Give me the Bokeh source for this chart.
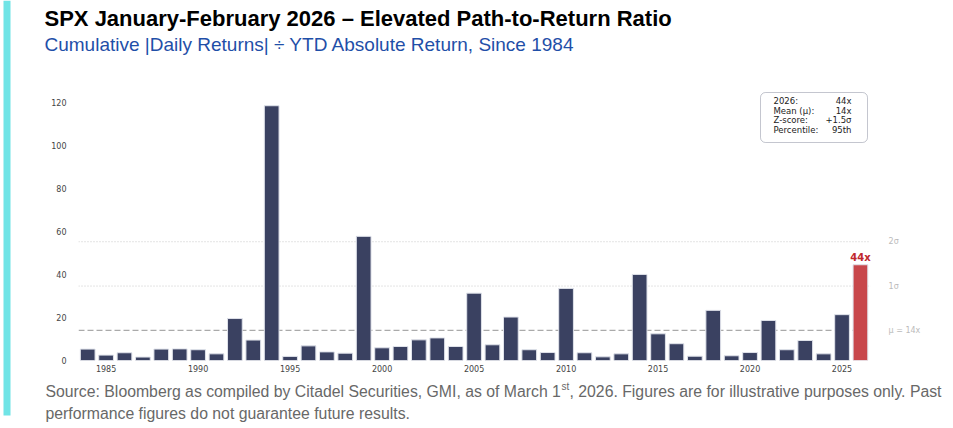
from bokeh.plotting import figure
from bokeh.models import Label, BoxAnnotation, FixedTicker, ColumnDataSource, Range1d
from bokeh.layouts import row, column
from bokeh.core.properties import value
from bokeh.embed import file_html
from bokeh.resources import INLINE

# ---------------- data ----------------
years = list(range(1984, 2027))
ratios = [5.3, 2.5, 3.6, 1.6, 5.3, 5.4, 5.0, 3.1, 19.5, 9.5,
          118.4, 1.9, 6.8, 4.0, 3.4, 57.7, 5.9, 6.5, 9.6, 10.5,
          6.5, 31.3, 7.3, 20.2, 5.0, 3.7, 33.5, 3.6, 1.7, 3.1,
          40.0, 12.4, 7.8, 2.0, 23.3, 2.2, 3.7, 18.6, 5.0, 9.3,
          3.1, 21.3, 44.5]
x_ticks = [1985, 1990, 1995, 2000, 2005, 2010, 2015, 2020, 2025]
y_ticks = [0, 20, 40, 60, 80, 100, 120]
current_year = 2026
current_label = "44x"
mean_value = 14
sigma_value = 20.6
stats_keys = ["2026:", "Mean (\u03bc):", "Z-score:", "Percentile:"]
stats_vals = ["44x", "14x", "+1.5\u03c3", "95th"]

title_text = "SPX January-February 2026 \u2013 Elevated Path-to-Return Ratio"
subtitle_text = "Cumulative |Daily Returns| \u00f7 YTD Absolute Return, Since 1984"
footer_a = "Source: Bloomberg as compiled by Citadel Securities, GMI, as of March 1"
footer_sup = "st"
footer_b = ", 2026. Figures are for illustrative purposes only. Past"
footer_2 = "performance figures do not guarantee future results."

# ---------------- styles ----------------
NAVY = "#3a4161"
RED = "#c8474b"
CYAN = "#70e4e6"
FOOT = "#686868"
STRIP_W = 12
MAIN_W = 953 - STRIP_W
TITLE_H, CHART_H, FOOT_H = 62, 316, 50


def blank(width, height):
    f = figure(width=width, height=height, output_backend="svg", toolbar_location=None,
               x_range=Range1d(0, width), y_range=Range1d(height, 0),
               x_axis_type=None, y_axis_type=None, frame_align=False,
               min_border=0, min_border_left=0, min_border_right=0,
               min_border_top=0, min_border_bottom=0)
    f.outline_line_color = None
    f.xgrid.visible = False
    f.ygrid.visible = False
    return f


# ---- cyan strip ----
strip = blank(STRIP_W, 428)
strip.quad(left=[3], right=[10], top=[0], bottom=[415], fill_color=CYAN, line_color=None)

# ---- title block ----
tfig = blank(MAIN_W, TITLE_H)
tfig.text(x=[32], y=[18], text=[title_text], text_font=value("Liberation Sans"),
          text_font_style="bold", text_font_size="22px", text_color="#000000",
          text_baseline="alphabetic")
tfig.text(x=[32], y=[44], text=[subtitle_text], text_font=value("Liberation Sans"),
          text_font_size="19px", text_color="#1f4fa8", text_baseline="alphabetic")

# ---- chart ----
colors = [RED if y == current_year else NAVY for y in years]
src = ColumnDataSource(dict(year=years, ratio=ratios, color=colors))

x_start, x_line_end, x_frame_end = 1983.5, 2026.55, 2030.08
p = figure(width=MAIN_W, height=CHART_H, output_backend="svg", toolbar_location=None,
           x_range=Range1d(x_start, x_frame_end), y_range=Range1d(0, 138.5),
           frame_align=False,
           min_border_left=66, min_border_right=18, min_border_top=0,
           min_border_bottom=18)
p.outline_line_color = None
p.xgrid.visible = False
p.ygrid.visible = False

for ax in (p.xaxis, p.yaxis):
    ax.axis_line_color = None
    ax.major_tick_line_color = None
    ax.minor_tick_line_color = None
    ax.major_tick_out = 0
    ax.major_tick_in = 0
    ax.minor_tick_out = 0
    ax.minor_tick_in = 0
    ax.major_label_text_font = "DejaVu Sans"
    ax.major_label_text_font_size = "8px"
    ax.major_label_text_color = "#444444"
p.xaxis.ticker = FixedTicker(ticks=x_ticks)
p.yaxis.ticker = FixedTicker(ticks=y_ticks)
p.xaxis.major_label_standoff = 4
p.yaxis.major_label_standoff = 12

# reference lines (beneath bars)
p.segment(x0=[x_start], x1=[x_line_end], y0=[mean_value], y1=[mean_value],
          line_color="#aaaaaa", line_dash="6 3", line_width=1.2)
sig_levels = [mean_value + sigma_value, mean_value + 2 * sigma_value]
p.segment(x0=[x_start] * 2, x1=[x_line_end] * 2, y0=sig_levels, y1=sig_levels,
          line_color="#c4c4c4", line_dash="1 2", line_width=0.9)

p.vbar(x="year", top="ratio", width=0.8, source=src, fill_color="color",
       line_color="#dfe2ea", line_width=1)

# current-year label
cur_val = ratios[years.index(current_year)]
p.text(x=[current_year], y=[cur_val], text=[current_label], text_align="center",
       text_baseline="alphabetic", y_offset=-7, text_font=value("DejaVu Sans"),
       text_font_style="bold", text_font_size="10px", text_color="#c0282d")

# right-side sigma labels
p.text(x=[x_line_end] * 3,
       y=[mean_value + 2 * sigma_value, mean_value + sigma_value, mean_value],
       text=["2\u03c3", "1\u03c3", "\u03bc = %dx" % mean_value], x_offset=18,
       text_baseline="middle", text_font=value("DejaVu Sans"), text_font_size="8px",
       text_color="#bbbbbb")

# stats box
p.add_layout(BoxAnnotation(left=682, right=789, bottom=218, top=268,
                           left_units="screen", right_units="screen",
                           top_units="screen", bottom_units="screen",
                           fill_color="white", fill_alpha=1.0, line_color=NAVY,
                           line_width=1, border_radius=5, level="overlay"))
base_y = 259.5
for i, (k, v) in enumerate(zip(stats_keys, stats_vals)):
    yy = base_y - i * 9.5
    p.add_layout(Label(x=695, y=yy, x_units="screen", y_units="screen", text=k,
                       text_font="DejaVu Sans", text_font_size="8.5px",
                       text_color="#222222", text_baseline="alphabetic",
                       level="overlay"))
    p.add_layout(Label(x=773, y=yy, x_units="screen", y_units="screen", text=v,
                       text_font="DejaVu Sans", text_font_size="8.5px",
                       text_color="#222222", text_baseline="alphabetic",
                       text_align="right", level="overlay"))

# ---- footer ----
ffig = blank(MAIN_W, FOOT_H)
ffig.text(x=[33], y=[13], text=[footer_a], text_font=value("Liberation Sans"),
          text_font_size="15.8px", text_color=FOOT, text_baseline="alphabetic")
ffig.text(x=[549], y=[8], text=[footer_sup], text_font=value("Liberation Sans"),
          text_font_size="10px", text_color=FOOT, text_baseline="alphabetic")
ffig.text(x=[557], y=[13], text=[footer_b], text_font=value("Liberation Sans"),
          text_font_size="15.8px", text_color=FOOT, text_baseline="alphabetic")
ffig.text(x=[33], y=[35], text=[footer_2], text_font=value("Liberation Sans"),
          text_font_size="15.8px", text_color=FOOT, text_baseline="alphabetic")

layout = row(strip, column(tfig, p, ffig, spacing=0), spacing=0)
open("out.html", "w").write(file_html(layout, INLINE))
